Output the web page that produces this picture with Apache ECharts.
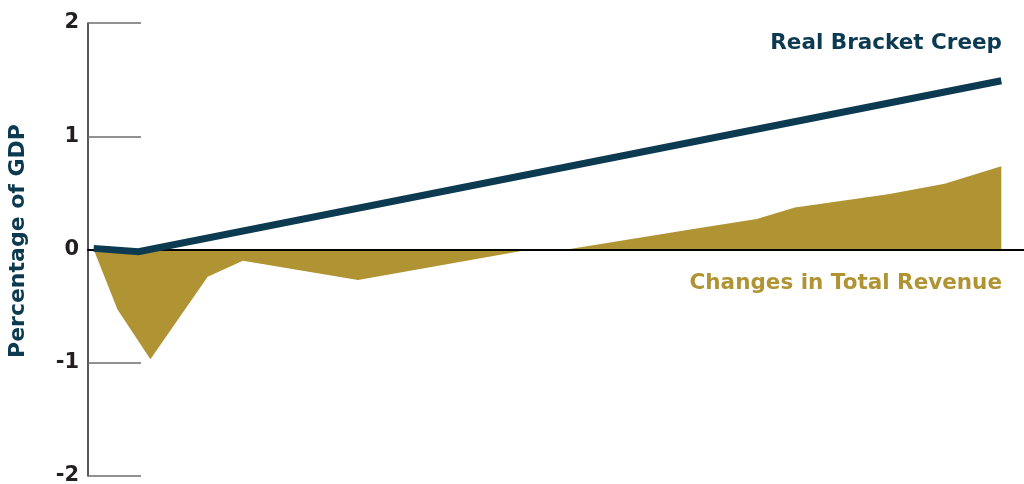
<!DOCTYPE html>
<html>
<head>
<meta charset="utf-8">
<script src="https://cdn.jsdelivr.net/npm/echarts@6/dist/echarts.min.js"></script>
<style>
  html, body { margin: 0; padding: 0; background: #ffffff; }
  #chart { width: 1024px; height: 484px; }
</style>
</head>
<body>
<div id="chart"></div>
<script>
// Time position (years from start) and value (percentage of GDP) for each series
const revenuePeriods = [0, 0.42, 1.0, 2.01, 2.63, 4.66, 7.69, 8.34, 10.68, 11.69, 12.36, 13.2, 14.03, 15.0, 16.0];
const revenueValues  = [0, -0.53, -0.97, -0.24, -0.10, -0.27, 0, 0, 0.19, 0.27, 0.37, 0.43, 0.49, 0.58, 0.735];

const creepPeriods = [0, 0.79, 16.0];
const creepValues  = [0.01, -0.02, 1.49];

const yTicks = [-2, -1, 0, 1, 2];

const NAVY = '#0c3a51';
const GOLD = '#b09433';
const FONT = '"DejaVu Sans"';

const pair = (xs, ys) => xs.map((x, i) => [x, ys[i]]);

const chart = echarts.init(document.getElementById('chart'), null, { renderer: 'canvas' });

chart.setOption({
  animation: false,
  backgroundColor: '#ffffff',
  grid: { left: 88, right: 0, top: 23, bottom: 8, outerBoundsMode: 'none', containLabel: false },
  xAxis: {
    type: 'value',
    min: -0.1,
    max: 16.4,
    z: 2,
    axisLine: { show: true, onZero: true, lineStyle: { color: '#000000', width: 2 } },
    axisTick: { show: false },
    axisLabel: { show: false },
    splitLine: { show: false }
  },
  yAxis: {
    type: 'value',
    min: yTicks[0],
    max: yTicks[yTicks.length - 1],
    interval: 1,
    axisLine: { show: true, onZero: false, lineStyle: { color: '#231f20', width: 1.5 } },
    axisTick: { show: true, inside: true, length: 53, lineStyle: { color: '#6d6d6d', width: 1.5 } },
    axisLabel: {
      show: true,
      margin: 9,
      color: '#231f20',
      fontFamily: FONT,
      fontWeight: 'bold',
      fontSize: 21
    },
    splitLine: { show: false }
  },
  graphic: [
    {
      type: 'text',
      x: 18, y: 241,
      rotation: Math.PI / 2,
      style: {
        text: 'Percentage of GDP',
        fill: NAVY,
        font: 'bold 22px ' + FONT,
        textAlign: 'center',
        textVerticalAlign: 'middle'
      }
    },
    {
      type: 'text',
      x: 1002, y: 43,
      style: {
        text: 'Real Bracket Creep',
        fill: NAVY,
        font: 'bold 21.5px ' + FONT,
        textAlign: 'right',
        textVerticalAlign: 'middle'
      }
    },
    {
      type: 'text',
      x: 1002, y: 283,
      style: {
        text: 'Changes in Total Revenue',
        fill: GOLD,
        font: 'bold 21.5px ' + FONT,
        textAlign: 'right',
        textVerticalAlign: 'middle'
      }
    }
  ],
  series: [
    {
      name: 'Changes in Total Revenue',
      type: 'line',
      data: pair(revenuePeriods, revenueValues),
      showSymbol: false,
      symbol: 'none',
      lineStyle: { width: 0 },
      areaStyle: { color: GOLD, opacity: 1, origin: 0 },
      z: 1
    },
    {
      name: 'Real Bracket Creep',
      type: 'line',
      data: pair(creepPeriods, creepValues),
      showSymbol: false,
      symbol: 'none',
      lineStyle: { color: NAVY, width: 7, cap: 'butt', join: 'miter' },
      z: 3
    }
  ]
});
</script>
</body>
</html>
